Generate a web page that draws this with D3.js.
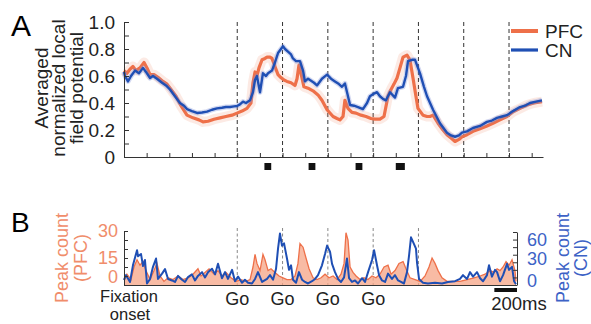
<!DOCTYPE html>
<html><head><meta charset="utf-8">
<script src="https://cdn.jsdelivr.net/npm/d3@7"></script>
<style>body{margin:0;background:#fff}svg{display:block}text{font-family:"Liberation Sans",Arial,sans-serif}</style>
</head><body>
<svg id="c" width="591" height="324"></svg>
<script>
// ---- Panel A: averaged normalized LFP, [time ms, value]
const lfpCN = [[0,.63],[9,.60],[35,.56],[62,.60],[97,.64],[132,.62],[168,.66],[194,.63],[230,.585],[256,.60],[291,.58],[336,.55],[371,.53],[406,.50],[450,.45],[494,.40],[530,.38],[556,.355],[600,.34],[645,.326],[689,.33],[733,.336],[777,.35],[821,.36],[865,.365],[900,.37],[936,.37],[971,.375],[998,.378],[1024,.39],[1051,.41],[1077,.40],[1113,.42],[1139,.48],[1157,.57],[1174,.60],[1201,.48],[1227,.62],[1254,.60],[1272,.62],[1307,.64],[1333,.70],[1360,.77],[1404,.82],[1422,.80],[1448,.78],[1475,.76],[1492,.73],[1519,.71],[1554,.71],[1581,.64],[1598,.56],[1625,.58],[1642,.57],[1678,.55],[1704,.53],[1748,.58],[1793,.61],[1828,.58],[1863,.56],[1898,.54],[1925,.52],[1951,.545],[1978,.45],[1996,.385],[2031,.38],[2066,.37],[2110,.355],[2146,.40],[2172,.45],[2208,.47],[2234,.48],[2260,.45],[2287,.43],[2313,.42],[2349,.48],[2393,.44],[2419,.51],[2464,.52],[2490,.60],[2508,.71],[2543,.72],[2570,.72],[2614,.62],[2649,.52],[2676,.45],[2729,.35],[2790,.25],[2852,.18],[2888,.16],[2923,.15],[2958,.16],[2985,.18],[3029,.19],[3082,.215],[3144,.23],[3205,.26],[3249,.27],[3294,.29],[3338,.30],[3382,.31],[3435,.34],[3497,.37],[3541,.38],[3585,.40],[3638,.41],[3691,.42]];
const lfpPFC = [[0,.64],[26,.62],[53,.65],[79,.67],[106,.64],[141,.66],[177,.70],[203,.66],[230,.61],[265,.61],[300,.59],[344,.56],[380,.54],[415,.50],[459,.45],[503,.38],[556,.31],[609,.29],[662,.275],[698,.26],[742,.265],[795,.28],[848,.29],[900,.30],[954,.31],[998,.325],[1042,.34],[1086,.36],[1121,.40],[1139,.55],[1157,.63],[1174,.60],[1192,.66],[1219,.72],[1245,.73],[1263,.74],[1289,.74],[1307,.73],[1333,.67],[1360,.61],[1377,.595],[1413,.57],[1439,.56],[1475,.55],[1510,.53],[1528,.58],[1545,.68],[1563,.62],[1589,.52],[1625,.51],[1669,.49],[1713,.46],[1748,.42],[1793,.35],[1846,.30],[1881,.285],[1907,.275],[1934,.30],[1951,.42],[1978,.36],[2013,.33],[2049,.325],[2093,.31],[2137,.30],[2181,.285],[2216,.28],[2260,.28],[2296,.30],[2331,.45],[2358,.50],[2384,.54],[2411,.585],[2437,.66],[2464,.74],[2499,.755],[2525,.72],[2552,.585],[2578,.45],[2596,.36],[2640,.31],[2676,.30],[2702,.30],[2729,.31],[2773,.25],[2817,.20],[2852,.165],[2888,.14],[2923,.115],[2958,.13],[2985,.15],[3029,.165],[3082,.19],[3144,.21],[3205,.23],[3258,.25],[3320,.275],[3382,.30],[3435,.335],[3497,.36],[3559,.385],[3620,.40],[3691,.41]];
const dashTimesA = [1000,1400,1800,2200,2600,3000,3400];
const markerSpans = [[1240,1300],[1630,1690],[2045,2105],[2400,2480]];
const yTicksA = [0,.1,.2,.3,.4,.5,.6,.7,.8,.9,1];
const yLabelsA = ["Averaged","normalized local","field potential"];
const legendItems = ["PFC","CN"];

// ---- Panel B: peak counts, [time ms, count]
const peakCN = [[0,6.6],[18,13],[53,4],[79,26],[115,46],[124,38],[150,41],[168,25],[185,33],[203,2],[230,8],[256,24],[283,35],[300,8],[336,15],[362,21],[389,8],[424,6],[450,4],[477,12],[512,7],[539,4],[565,10.5],[600,14],[627,6],[653,12],[689,17],[715,10],[742,17],[777,21.5],[804,14],[830,28],[865,9],[892,17],[918,8],[954,20],[980,5],[1007,11],[1042,3],[1068,7],[1095,3],[1130,2],[1157,8],[1183,17],[1219,4],[1263,8],[1289,13],[1316,7],[1342,21],[1360,48],[1377,68],[1395,52],[1413,55],[1439,35],[1457,20],[1475,26],[1492,7],[1519,3],[1545,17],[1572,7],[1598,4],[1625,2],[1660,5],[1687,8],[1713,13],[1748,26],[1775,41],[1793,52],[1819,44],[1837,28],[1863,17],[1890,8],[1916,4],[1943,10],[1969,35],[1987,9],[2013,4],[2040,6],[2066,2],[2102,9],[2128,4],[2155,17],[2190,33],[2208,46],[2234,26],[2252,13],[2278,6],[2305,4],[2331,15],[2366,8],[2393,13],[2420,6],[2446,4],[2472,2],[2499,17],[2517,39],[2534,63],[2552,57],[2578,48],[2587,30],[2605,8],[2640,3],[2684,2],[2746,3],[2808,2],[2861,4],[2923,5],[2967,8],[2993,13],[3029,8],[3055,17],[3082,11],[3117,17],[3144,9],[3170,5],[3205,13],[3223,26],[3249,11],[3276,20],[3294,17],[3320,5],[3347,13],[3382,28],[3400,20],[3426,24],[3444,5],[3461,1]];
const peakPFC = [[0,3],[26,6],[62,3],[88,10],[115,14],[141,11],[168,13],[194,8],[230,3],[265,8],[291,12],[318,5],[353,2],[389,4],[433,3],[477,5],[521,3],[565,4],[609,6],[653,9],[680,5],[715,7],[751,9],[795,6],[830,8],[865,5],[900,7],[945,4],[989,2],[1033,3],[1077,2],[1113,3],[1139,10],[1157,17],[1174,12],[1201,8],[1227,17],[1245,14],[1272,8],[1298,9],[1333,7],[1369,5],[1404,4],[1439,3],[1475,3],[1510,5],[1536,12],[1554,23],[1581,21],[1607,15],[1634,9],[1669,4],[1704,3],[1740,4],[1775,6],[1810,4],[1846,5],[1881,3],[1916,6],[1943,12],[1960,29],[1978,25],[1996,10],[2022,7],[2049,5],[2084,3],[2119,4],[2155,3],[2190,5],[2225,4],[2260,6],[2296,10],[2331,11],[2358,6],[2393,8],[2428,12],[2464,13],[2490,9],[2525,4],[2570,3],[2614,2],[2658,5],[2693,10],[2720,15],[2746,12],[2773,8],[2808,4],[2852,2],[2905,2],[2967,2],[3029,3],[3091,4],[3144,5],[3188,6],[3232,8],[3267,7],[3294,9],[3320,8],[3347,10],[3373,13],[3400,11],[3426,14],[3452,8],[3461,2]];
const goTimes = [1000,1400,1800,2200,2600];
const goLabel = "Go";
const pfcTicks = [0,5,10,15,20,25,30], pfcLabels = [0,15,30];
const cnTicks = [0,10,20,30,40,50,60,70], cnLabels = [0,30,60];
const scaleBarMs = [3270,3470];

const ORANGE = "#ee7049", BLUE = "#1f4fb4", ORANGE_T = "#f08d6b", BLUE_T = "#3d62c6";
const svg = d3.select("#c");

const xA = d3.scaleLinear().domain([0,3700]).range([124,543]);
const yA = d3.scaleLinear().domain([0,1]).range([157,22]);
const xB = d3.scaleLinear().domain([0,3470]).range([124,517]);
const yP = d3.scaleLinear().domain([0,30]).range([285,231]);
const yC = d3.scaleLinear().domain([0,70]).range([285,232]);

// panel letters
svg.append("text").attr("x",11).attr("y",36).attr("font-size",30).text("A");
svg.append("text").attr("x",11).attr("y",232).attr("font-size",28).text("B");

// ---- Panel A
const gA = svg.append("g");
gA.selectAll(".dA").data(dashTimesA).join("line")
  .attr("x1",d=>xA(d)).attr("x2",d=>xA(d)).attr("y1",22).attr("y2",157)
  .attr("stroke","#333").attr("stroke-width",1).attr("stroke-dasharray","4,3");

const lineA = d3.line().x(d=>xA(d[0])).y(d=>yA(d[1]));
gA.append("path").attr("d",lineA(lfpPFC)).attr("fill","none").attr("stroke",ORANGE).attr("stroke-opacity",0.15).attr("stroke-width",10).attr("stroke-linejoin","round");
gA.append("path").attr("d",lineA(lfpPFC)).attr("fill","none").attr("stroke",ORANGE).attr("stroke-width",3.2).attr("stroke-linejoin","round");
gA.append("path").attr("d",lineA(lfpCN)).attr("fill","none").attr("stroke","#7d8fd8").attr("stroke-opacity",0.35).attr("stroke-width",5).attr("stroke-linejoin","round");
gA.append("path").attr("d",lineA(lfpCN)).attr("fill","none").attr("stroke",BLUE).attr("stroke-width",2.4).attr("stroke-linejoin","round");

const axA = gA.append("g").attr("transform","translate(124,0)")
  .call(d3.axisLeft(yA).tickValues(yTicksA).tickSizeInner(-5).tickSizeOuter(0).tickPadding(9)
    .tickFormat(d=>{const k=Math.round(d*10); return k%2? "" : (k===0?"0":d.toFixed(1));}));
const axAx = gA.append("g").attr("transform","translate(0,157)")
  .call(d3.axisBottom(xA).tickValues(d3.range(0,3700,200)).tickSizeInner(-4).tickSizeOuter(0).tickFormat(""));
[axA,axAx].forEach(a=>{a.selectAll("path,line").attr("stroke","#333");a.selectAll("text").attr("font-size",19).attr("fill","#222").attr("font-family","Liberation Sans, Arial, sans-serif");});

gA.selectAll(".mk").data(markerSpans).join("rect")
  .attr("x",d=>xA(d[0])).attr("width",d=>xA(d[1])-xA(d[0])).attr("y",163).attr("height",7).attr("fill","#111");

const yl = svg.append("g");
yLabelsA.forEach((t,i)=>{
  yl.append("text").attr("transform",`translate(${41+i*17.5},88) rotate(-90)`).attr("text-anchor","middle")
    .attr("dy","0.35em").attr("font-size",19).attr("fill","#222").text(t);
});

// legend
const lg = svg.append("g");
legendItems.forEach((t,i)=>{
  const y = 31 + i*19;
  lg.append("line").attr("x1",511).attr("x2",538).attr("y1",y).attr("y2",y)
    .attr("stroke",i? BLUE: ORANGE).attr("stroke-width",i?3.2:4);
  lg.append("text").attr("x",545).attr("y",y+6.5).attr("font-size",19).attr("fill","#222").text(t);
});

// ---- Panel B
const gB = svg.append("g");
gB.selectAll(".dB").data(goTimes).join("line")
  .attr("x1",d=>xB(d)).attr("x2",d=>xB(d)).attr("y1",228).attr("y2",285)
  .attr("stroke","#888").attr("stroke-width",1).attr("stroke-dasharray","3,2.5");

const areaP = d3.area().x(d=>xB(d[0])).y0(yP(0)).y1(d=>yP(d[1]));
const lineP = d3.line().x(d=>xB(d[0])).y(d=>yP(d[1]));
const lineC = d3.line().x(d=>xB(d[0])).y(d=>yC(d[1]));
gB.append("path").attr("d",areaP(peakPFC)).attr("fill","#f5a486").attr("fill-opacity",0.75);
gB.append("path").attr("d",lineP(peakPFC)).attr("fill","none").attr("stroke",ORANGE).attr("stroke-width",1.3);
gB.append("path").attr("d",lineC(peakCN)).attr("fill","none").attr("stroke",BLUE).attr("stroke-width",2).attr("stroke-linejoin","round");

gB.append("line").attr("x1",124).attr("x2",517).attr("y1",285.5).attr("y2",285.5).attr("stroke","#333");
const axP = gB.append("g").attr("transform","translate(124,0)")
  .call(d3.axisLeft(yP).tickValues(pfcTicks).tickSizeInner(-4).tickSizeOuter(0).tickPadding(6)
    .tickFormat(d=>pfcLabels.includes(d)? String(d):""));
const axC = gB.append("g").attr("transform","translate(517,0)")
  .call(d3.axisRight(yC).tickValues(cnTicks).tickSizeInner(-4).tickSizeOuter(0).tickPadding(10)
    .tickFormat(d=>cnLabels.includes(d)? String(d):""));
axP.selectAll("path,line").attr("stroke","#333");
axC.selectAll("path,line").attr("stroke","#333");
axP.selectAll("text").attr("font-size",18).attr("fill",ORANGE_T).attr("font-family","Liberation Sans, Arial, sans-serif")
  .attr("dy",d=>d===0?"-0.16em":"0.32em");
axC.selectAll("text").attr("font-size",18).attr("fill",BLUE_T).attr("font-family","Liberation Sans, Arial, sans-serif")
  .attr("dy",d=>d===0?"0.1em":(d===30?"0.12em":"0.32em"));

gB.selectAll(".go").data(goTimes.slice(0,4)).join("text")
  .attr("x",d=>xB(d)).attr("y",305).attr("text-anchor","middle").attr("font-size",18).attr("fill","#222").text(goLabel);
const fix = gB.append("text").attr("text-anchor","middle").attr("font-size",16.5).attr("fill","#222");
fix.append("tspan").attr("x",129).attr("y",301.5).text("Fixation");
fix.append("tspan").attr("x",130).attr("y",320).text("onset");
gB.append("rect").attr("x",xB(scaleBarMs[0])).attr("width",xB(scaleBarMs[1])-xB(scaleBarMs[0])).attr("y",288).attr("height",4).attr("fill","#111");
gB.append("text").attr("x",519).attr("y",310).attr("text-anchor","middle").attr("font-size",18.5).attr("fill","#222").text("200ms");

[["Peak count",62,ORANGE_T],["(PFC)",81,ORANGE_T],["Peak count",563,BLUE_T],["(CN)",581,BLUE_T]].forEach(([t,x,c])=>{
  svg.append("text").attr("transform",`translate(${x},258) rotate(-90)`).attr("text-anchor","middle")
    .attr("dy","0.35em").attr("font-size",18).attr("fill",c).text(t);
});
</script>
</body></html>
